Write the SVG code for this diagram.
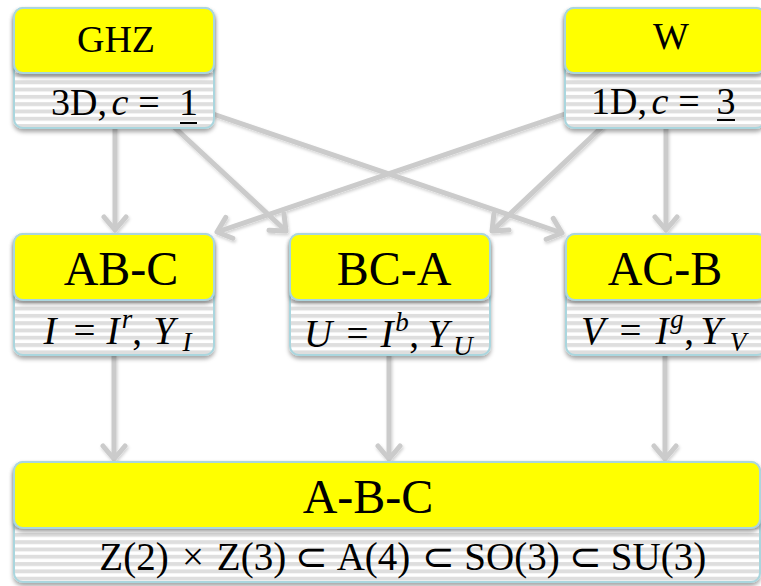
<svg xmlns="http://www.w3.org/2000/svg" width="761" height="586" viewBox="0 0 761 586">
  <defs>
    <pattern id="stripes" patternUnits="userSpaceOnUse" width="20" height="7.3">
      <rect width="20" height="7.3" fill="#ffffff"/>
      <rect width="20" height="3.9" fill="#dedede"/>
    </pattern>
    <filter id="shadow" x="-10%" y="-10%" width="120%" height="140%">
      <feDropShadow dx="0" dy="3" stdDeviation="2" flood-color="#000" flood-opacity="0.35"/>
    </filter>
    <filter id="lineshadow" x="-10%" y="-10%" width="120%" height="130%">
      <feDropShadow dx="1" dy="2" stdDeviation="1.5" flood-color="#000" flood-opacity="0.18"/>
    </filter>
    <marker id="chev" markerUnits="userSpaceOnUse" viewBox="-16 -14 20 28" refX="0" refY="0" markerWidth="20" markerHeight="28" orient="auto">
      <path d="M -13 -11 L 0 0 L -13 11" fill="none" stroke="#cbcbcb" stroke-width="5" stroke-linecap="round" stroke-linejoin="round"/>
    </marker>
  </defs>
  <style>
    .body { fill: url(#stripes); stroke: #aad6de; stroke-width: 2; filter: url(#shadow); }
    .head { fill: #ffff00; stroke: #aad6de; stroke-width: 2; filter: url(#shadow); }
    .conn { fill: none; stroke: #cbcbcb; stroke-width: 5; marker-end: url(#chev); }
    .t36 { font-size: 38px; }
    .t48 { font-size: 48px; }
    .math { font-size: 39px; }
    .sup { font-size: 27px; font-style: italic; }
    .it { font-style: italic; }
    .ul { stroke: #000; stroke-width: 2; }
  </style>

  <rect width="761" height="586" fill="#ffffff"/>

  <!-- connectors, drawn beneath the nodes -->
  <g id="connectors" filter="url(#lineshadow)">
    <line class="conn" x1="115" y1="128" x2="115" y2="230"/>
    <line class="conn" x1="173" y1="126" x2="286" y2="231"/>
    <line class="conn" x1="213" y1="114" x2="562" y2="233"/>
    <line class="conn" x1="565" y1="114" x2="217" y2="232"/>
    <line class="conn" x1="603" y1="126" x2="492" y2="231"/>
    <line class="conn" x1="666" y1="128" x2="666" y2="230"/>
    <line class="conn" x1="114" y1="355" x2="114" y2="459"/>
    <line class="conn" x1="389" y1="355" x2="389" y2="459"/>
    <line class="conn" x1="665" y1="355" x2="665" y2="459"/>
  </g>

  <!-- each glyph group is centred on its own x (one text chunk per tspan) -->
  <g font-family="'Liberation Serif', 'Times New Roman', serif" fill="#000" text-anchor="middle">
    <!-- top row -->
    <g id="ghz">
      <rect class="body" x="14" y="8" width="200" height="120" rx="9"/>
      <rect class="head" x="14" y="8" width="200" height="65" rx="9"/>
      <text class="t36" x="116" y="52">GHZ</text>
      <text class="t36" y="115"><tspan x="79">3D,</tspan><tspan class="it" x="120">c</tspan><tspan x="149">=</tspan><tspan x="188.5">1</tspan></text>
      <line class="ul" x1="180" y1="123" x2="197" y2="123"/>
    </g>

    <g id="w">
      <rect class="body" x="565" y="8" width="200" height="120" rx="9"/>
      <rect class="head" x="565" y="8" width="200" height="65" rx="9"/>
      <text class="t36" x="671" y="49">W</text>
      <text class="t36" y="114"><tspan x="619">1D,</tspan><tspan class="it" x="660">c</tspan><tspan x="689">=</tspan><tspan x="726">3</tspan></text>
      <line class="ul" x1="717" y1="120" x2="735" y2="120"/>
    </g>

    <!-- middle row -->
    <g id="ab-c">
      <rect class="body" x="14" y="234" width="200" height="121" rx="9"/>
      <rect class="head" x="14" y="234" width="200" height="66" rx="9"/>
      <text class="t48" x="121" y="285">AB-C</text>
      <text class="math" y="344"><tspan class="it" x="50">I</tspan><tspan x="84.5">=</tspan><tspan class="it" x="113">I</tspan><tspan class="sup" x="127" y="328">r</tspan><tspan x="137" y="344">,</tspan><tspan class="it" x="164">Y</tspan><tspan class="sup" x="187" y="351">I</tspan></text>
    </g>

    <g id="bc-a">
      <rect class="body" x="290" y="234" width="200" height="121" rx="9"/>
      <rect class="head" x="290" y="234" width="200" height="66" rx="9"/>
      <text class="t48" x="394" y="285">BC-A</text>
      <text class="math" y="347"><tspan class="it" x="318">U</tspan><tspan x="357.5">=</tspan><tspan class="it" x="387">I</tspan><tspan class="sup" x="402" y="331">b</tspan><tspan x="414" y="347">,</tspan><tspan class="it" x="438">Y</tspan><tspan class="sup" x="463" y="355">U</tspan></text>
    </g>

    <g id="ac-b">
      <rect class="body" x="566" y="234" width="200" height="121" rx="9"/>
      <rect class="head" x="566" y="234" width="200" height="66" rx="9"/>
      <text class="t48" x="665" y="285">AC-B</text>
      <text class="math" y="344"><tspan class="it" x="593">V</tspan><tspan x="630.5">=</tspan><tspan class="it" x="662">I</tspan><tspan class="sup" x="677" y="328">g</tspan><tspan x="689" y="344">,</tspan><tspan class="it" x="711">Y</tspan><tspan class="sup" x="738" y="351">V</tspan></text>
    </g>

    <!-- bottom row -->
    <g id="a-b-c">
      <rect class="body" x="14" y="462" width="746" height="120" rx="9"/>
      <rect class="head" x="14" y="462" width="746" height="66" rx="9"/>
      <text class="t48" x="368" y="513">A-B-C</text>
      <text class="math" y="570"><tspan x="134">Z(2)</tspan><tspan x="193">×</tspan><tspan x="251.5">Z(3)</tspan><tspan x="311">⊂</tspan><tspan x="373.5">A(4)</tspan><tspan x="438.5">⊂</tspan><tspan x="512">SO(3)</tspan><tspan x="585">⊂</tspan><tspan x="658.5">SU(3)</tspan></text>
    </g>
  </g>
</svg>
